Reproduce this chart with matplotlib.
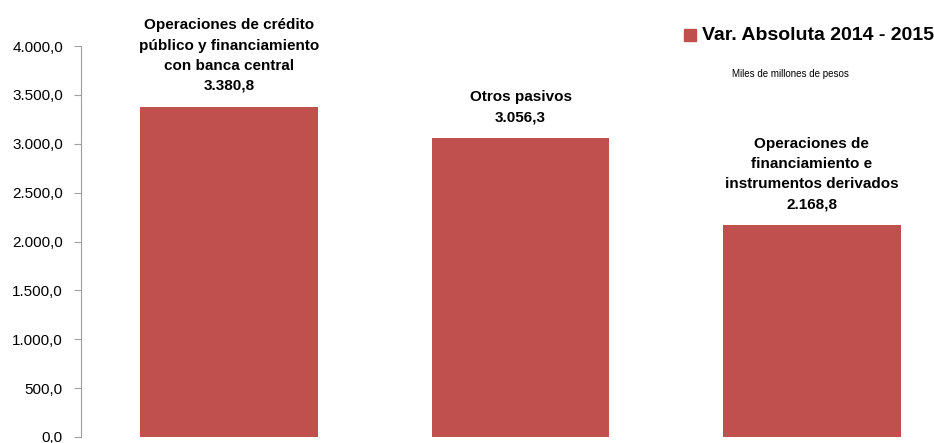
import matplotlib
matplotlib.use("Agg")
import matplotlib.pyplot as plt
from matplotlib.patches import Rectangle

plt.rcParams['font.family'] = ['Liberation Sans Narrow', 'Liberation Sans', 'DejaVu Sans']

categories = [
    "Operaciones de crédito\npúblico y financiamiento\ncon banca central",
    "Otros pasivos",
    "Operaciones de\nfinanciamiento e\ninstrumentos derivados",
]
values = [3380.8, 3056.3, 2168.8]
series_name = "Var. Absoluta 2014 - 2015"
unit_note = "Miles de millones de pesos"
yticks = [0, 500, 1000, 1500, 2000, 2500, 3000, 3500, 4000]

BAR_COLOR = "#C0504D"


def fmt(v, dec=1):
    s = f"{v:,.{dec}f}"
    return s.replace(",", "X").replace(".", ",").replace("X", ".")


fig = plt.figure(figsize=(9.34, 4.43), dpi=100)
ax = fig.add_axes([81 / 934, (443 - 437) / 443, 1 - 81 / 934, (437 - 46) / 443])

x = range(len(values))
ax.bar(x, values, width=0.61, color=BAR_COLOR)

ax.set_ylim(0, 4000)
ax.set_xlim(-0.509, 2.419)
ax.set_yticks(yticks)
ax.set_yticklabels([fmt(t) for t in yticks], fontsize=11)
ax.set_xticks([])

for s in ["top", "right", "bottom"]:
    ax.spines[s].set_visible(False)
ax.spines["left"].set_color("#A0A0A0")
ax.tick_params(axis="y", length=5, color="#A0A0A0", pad=8)

for xi, v, c in zip(x, values, categories):
    ax.annotate(f"{c}\n{fmt(v)}", xy=(xi, v), xytext=(0, 10), textcoords="offset points",
                ha="center", va="bottom", fontsize=11, fontweight="bold",
                linespacing=1.55, clip_on=False)

# legend
fig.patches.append(Rectangle((684 / 934, 1 - 41 / 443), 12 / 934, 12 / 443,
                             transform=fig.transFigure, color=BAR_COLOR))
fig.text(702 / 934, 1 - 35 / 443, series_name, fontsize=14, fontweight="bold",
         va="center", ha="left")
fig.text(790 / 934, 1 - 74 / 443, unit_note, fontsize=7, va="center", ha="center")

fig.savefig("out.png", dpi=100)
